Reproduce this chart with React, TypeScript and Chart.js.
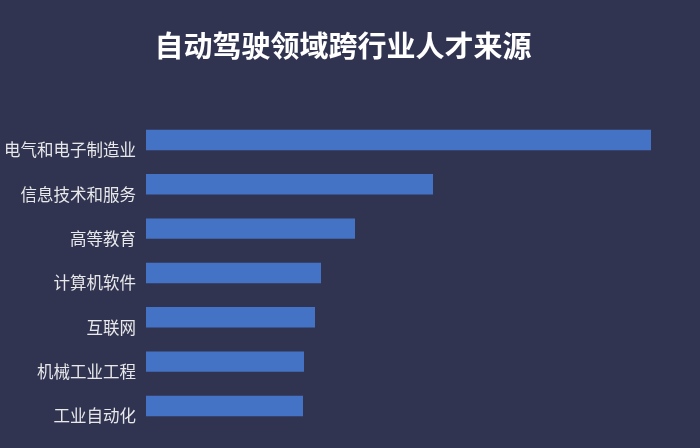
import React, { useEffect, useRef } from "react";
import Chart from "chart.js/auto";

const categories = [
  "电气和电子制造业",
  "信息技术和服务",
  "高等教育",
  "计算机软件",
  "互联网",
  "机械工业工程",
  "工业自动化",
];
const shares = [50.5, 28.7, 20.9, 17.5, 16.9, 15.8, 15.7];
const axisMax = 54;
const chartTitle = "自动驾驶领域跨行业人才来源";

const FONT = "'Noto Sans CJK SC', 'Noto Sans', sans-serif";

const App = () => {
  const canvasRef = useRef<HTMLCanvasElement>(null);
  const chartRef = useRef<any>(null);

  useEffect(() => {
    const ctx = canvasRef.current!.getContext("2d")!;
    if (chartRef.current) chartRef.current.destroy();

    chartRef.current = new Chart(ctx, {
      type: "bar",
      data: {
        labels: categories,
        datasets: [
          {
            data: shares,
            backgroundColor: "#4472c4",
            borderWidth: 0,
            categoryPercentage: 1,
            barPercentage: 0.46,
          },
        ],
      },
      options: {
        indexAxis: "y",
        animation: false,
        responsive: true,
        maintainAspectRatio: false,
        layout: { padding: { left: 0, right: 14, top: 0, bottom: 15.5 } },
        plugins: {
          legend: { display: false },
          tooltip: { enabled: false },
          title: {
            display: true,
            text: chartTitle,
            color: "#ffffff",
            font: { family: FONT, size: 29, weight: "bold", lineHeight: 1.2 },
            padding: { top: 29, bottom: 54 },
          },
        },
        scales: {
          x: {
            display: false,
            min: 0,
            max: axisMax,
          },
          y: {
            grid: { display: false, drawTicks: false },
            border: { display: false },
            afterFit: (scale: any) => {
              scale.width = 146;
            },
            ticks: {
              color: "#e8e8ea",
              padding: 10,
              labelOffset: 10,
              font: { family: FONT, size: 16.5 },
            },
          },
        },
      },
    });

    return () => {
      if (chartRef.current) {
        chartRef.current.destroy();
        chartRef.current = null;
      }
    };
  }, []);

  return (
    <div
      style={{
        position: "fixed",
        left: 0,
        top: 0,
        width: 700,
        height: 448,
        background: "#303451",
      }}
    >
      <canvas ref={canvasRef} />
    </div>
  );
};

export default App;
